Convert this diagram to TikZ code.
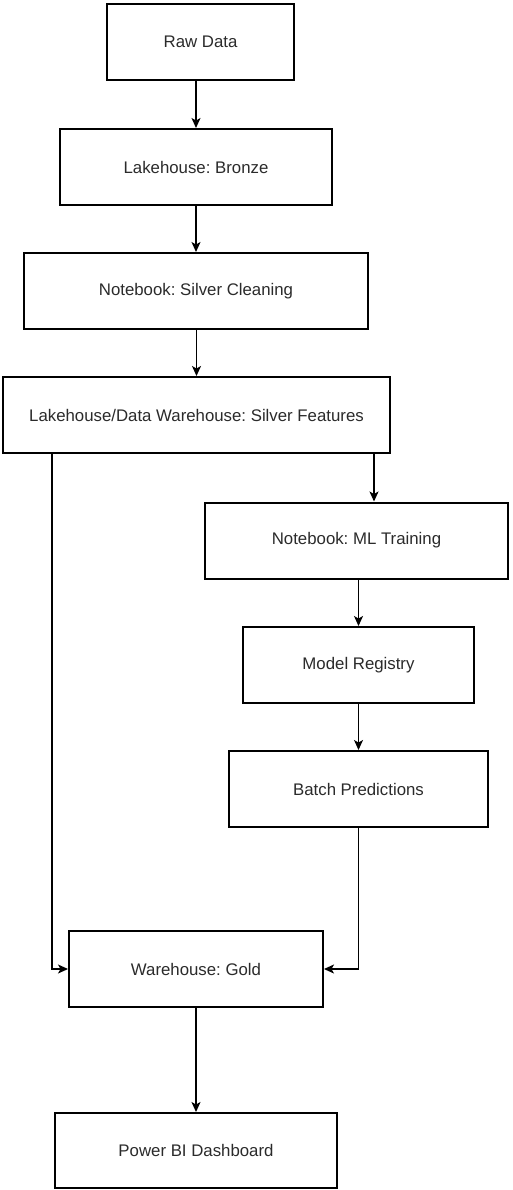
\documentclass[tikz,border=0pt]{standalone}
\usepackage{fontspec}
\setmainfont{Liberation Sans}
\usetikzlibrary{arrows.meta,calc}
\definecolor{txt}{HTML}{2B2B2B}
\frenchspacing
\tikzset{
  box/.style={draw=black, line width=2pt, fill=white, minimum height=76pt, inner sep=0pt,
    font=\fontsize{16.8}{20}\selectfont\frenchspacing, text=txt},
  conn/.style={draw=black, line width=1.3pt, -{Stealth[length=10pt,width=9pt,inset=2.5pt]}}
}
\begin{document}
\begin{tikzpicture}[x=1pt,y=-1pt]
\useasboundingbox (0,0) rectangle (512,1190);
\node[box, minimum width=187pt] (raw) at (200.5,42) {Raw Data};
\node[box, minimum width=272pt] (bronze) at (196,167) {Lakehouse: Bronze};
\node[box, minimum width=344pt] (clean) at (196,291) {Notebook: Silver Cleaning};
\node[box, minimum width=387pt] (feat) at (196.5,415) {Lakehouse/Data Warehouse: Silver Features};
\node[box, minimum width=303pt] (ml) at (356.5,540.5) {Notebook: ML Training};
\node[box, minimum width=231pt] (reg) at (358.5,665) {Model Registry};
\node[box, minimum width=259pt] (batch) at (358.5,789) {Batch Predictions};
\node[box, minimum width=254pt] (gold) at (196,969) {Warehouse: Gold};
\node[box, minimum width=282pt, minimum height=75pt] (pbi) at (196,1150.5) {Power BI Dashboard};
\coordinate (fl) at (52,0);
\coordinate (fr) at (374,0);
\draw[conn] (bronze.north |- raw.south) -- (bronze.north);
\draw[conn] (clean.north |- bronze.south) -- (clean.north);
\draw[conn] (feat.north |- clean.south) -- (feat.north);
\draw[conn] (fr |- feat.south) -- (fr |- ml.north);
\draw[conn] (reg.north |- ml.south) -- (reg.north);
\draw[conn] (batch.north |- reg.south) -- (batch.north);
\draw[conn] (fl |- feat.south) -- (fl |- gold.west) -- (gold.west);
\draw[conn] (batch.south) -- (batch.south |- gold.east) -- (gold.east);
\draw[conn] (gold.south) -- (gold.south |- pbi.north);
\end{tikzpicture}
\end{document}
